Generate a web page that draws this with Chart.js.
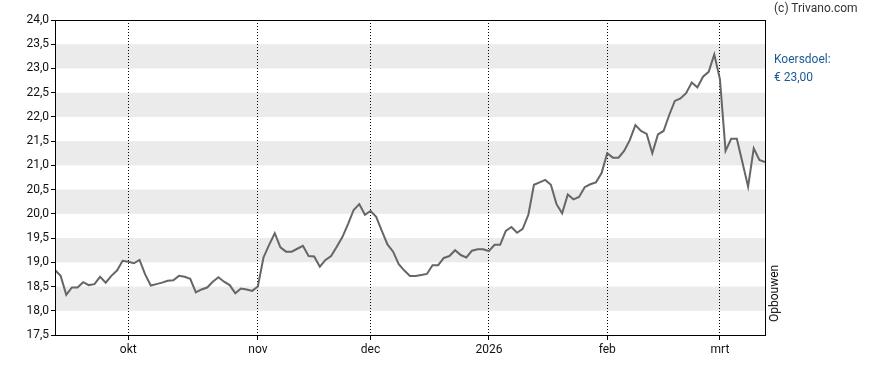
<!DOCTYPE html>
<html>
<head>
<meta charset="utf-8">
<script src="https://cdn.jsdelivr.net/npm/chart.js@4.4.1/dist/chart.umd.min.js"></script>
<style>
  html, body { margin: 0; padding: 0; background: #fff; }
  #wrap { position: relative; width: 888px; height: 370px; font-family: Roboto, "Liberation Sans", sans-serif; }
  #c { position: absolute; left: 0; top: 0; }
  .t { position: absolute; font-size: 12px; white-space: nowrap; }
  #copy { left: 774px; top: 1px; color: #333; }
  #k1 { left: 774px; top: 52px; color: #1c5a96; }
  #k2 { left: 774px; top: 70px; color: #1c5a96; }
  #opb { left: 767px; top: 322px; color: #111; transform: rotate(-90deg); transform-origin: 0 0; }
</style>
</head>
<body>
<div id="wrap">
  <canvas id="c" width="888" height="370"></canvas>
  <div class="t" id="copy">(c) Trivano.com</div>
  <div class="t" id="k1">Koersdoel:</div>
  <div class="t" id="k2">€ 23,00</div>
  <div class="t" id="opb">Opbouwen</div>
</div>
<script>
// Closing prices per trading day (12 sep 2025 .. 10 mrt 2026)
const prices = [
  18.84, 18.72, 18.33, 18.48, 18.48, 18.59, 18.53, 18.55, 18.70, 18.58,
  18.72, 18.83, 19.03, 19.01, 18.98, 19.05, 18.75, 18.52, 18.55, 18.58,
  18.62, 18.63, 18.72, 18.70, 18.66, 18.38, 18.44, 18.48, 18.60, 18.69,
  18.60, 18.53, 18.36, 18.46, 18.44, 18.41, 18.50, 19.10, 19.36, 19.60,
  19.31, 19.22, 19.22, 19.28, 19.34, 19.13, 19.12, 18.91, 19.05, 19.13,
  19.32, 19.52, 19.79, 20.08, 20.20, 19.98, 20.06, 19.94, 19.65, 19.37,
  19.22, 18.96, 18.83, 18.72, 18.72, 18.74, 18.76, 18.94, 18.94, 19.09,
  19.13, 19.25, 19.15, 19.10, 19.24, 19.27, 19.27, 19.23, 19.36, 19.36,
  19.65, 19.73, 19.61, 19.69, 19.98, 20.60, 20.65, 20.70, 20.60, 20.20,
  20.01, 20.40, 20.30, 20.35, 20.55, 20.61, 20.65, 20.84, 21.25, 21.16,
  21.16, 21.30, 21.52, 21.83, 21.71, 21.65, 21.25, 21.64, 21.71, 22.04,
  22.33, 22.38, 22.49, 22.71, 22.61, 22.83, 22.93, 23.29, 22.78, 21.30,
  21.55, 21.55, 21.06, 20.56, 21.35, 21.11, 21.07
];
// Month ticks: trading-day index of first trading day of each month
const monthTickIndex = [13, 36, 56, 77, 98, 118];
const monthTickLabels = ['okt', 'nov', 'dec', '2026', 'feb', 'mrt'];
// Y axis
const yMin = 17.5, yMax = 24.0, yStep = 0.5;
// Shaded horizontal bands [from, to]
const bands = [[18.0, 18.5], [19.0, 19.5], [20.0, 20.5], [21.0, 21.5], [22.0, 22.5], [23.0, 23.5]];

const points = prices.map((v, i) => ({ x: i, y: v }));

const bandPlugin = {
  id: 'bands',
  beforeDraw(chart) {
    const { ctx, chartArea: a, scales: { y } } = chart;
    ctx.save();
    ctx.fillStyle = '#ebebeb';
    bands.forEach(([lo, hi]) => {
      const y1 = y.getPixelForValue(hi), y2 = y.getPixelForValue(lo);
      ctx.fillRect(a.left, y1, a.right - a.left, y2 - y1);
    });
    ctx.restore();
  }
};
const framePlugin = {
  id: 'frame',
  afterDraw(chart) {
    const { ctx, chartArea: a } = chart;
    ctx.save();
    ctx.strokeStyle = '#000';
    ctx.lineWidth = 1;
    ctx.setLineDash([]);
    ctx.strokeRect(Math.round(a.left) + 0.5, Math.round(a.top) + 0.5, Math.round(a.right - a.left), Math.round(a.bottom - a.top));
    ctx.restore();
  }
};

new Chart(document.getElementById('c'), {
  type: 'line',
  data: {
    datasets: [{
      data: points,
      borderColor: '#666666',
      borderWidth: 2,
      pointRadius: 0,
      tension: 0,
      fill: false
    }]
  },
  options: {
    responsive: false,
    animation: false,
    layout: { padding: { left: 0, right: 123, top: 20, bottom: 0 } },
    plugins: { legend: { display: false }, tooltip: { enabled: false } },
    scales: {
      x: {
        type: 'linear',
        min: 0,
        max: prices.length - 1,
        afterBuildTicks(scale) {
          scale.ticks = monthTickIndex.map(v => ({ value: v }));
        },
        afterFit(scale) { scale.height = 35; },
        ticks: {
          autoSkip: false,
          maxRotation: 0,
          padding: 3,
          color: '#111',
          font: { family: 'Roboto', size: 12 },
          callback: (v) => monthTickLabels[monthTickIndex.indexOf(v)]
        },
        grid: {
          color: '#000',
          lineWidth: 1,
          tickLength: 5,
          tickColor: '#000',
          tickBorderDash: [1, 0]
        },
        border: { display: true, color: '#000', dash: [1, 2] }
      },
      y: {
        min: yMin,
        max: yMax,
        afterFit(scale) { scale.width = 55; },
        ticks: {
          stepSize: yStep,
          padding: 2,
          color: '#111',
          font: { family: 'Roboto', size: 12 },
          callback: (v) => v.toFixed(1).replace('.', ',')
        },
        grid: {
          drawOnChartArea: false,
          tickLength: 4,
          tickColor: '#000'
        },
        border: { display: true, color: '#000' }
      }
    }
  },
  plugins: [bandPlugin, framePlugin]
});
</script>
</body>
</html>
